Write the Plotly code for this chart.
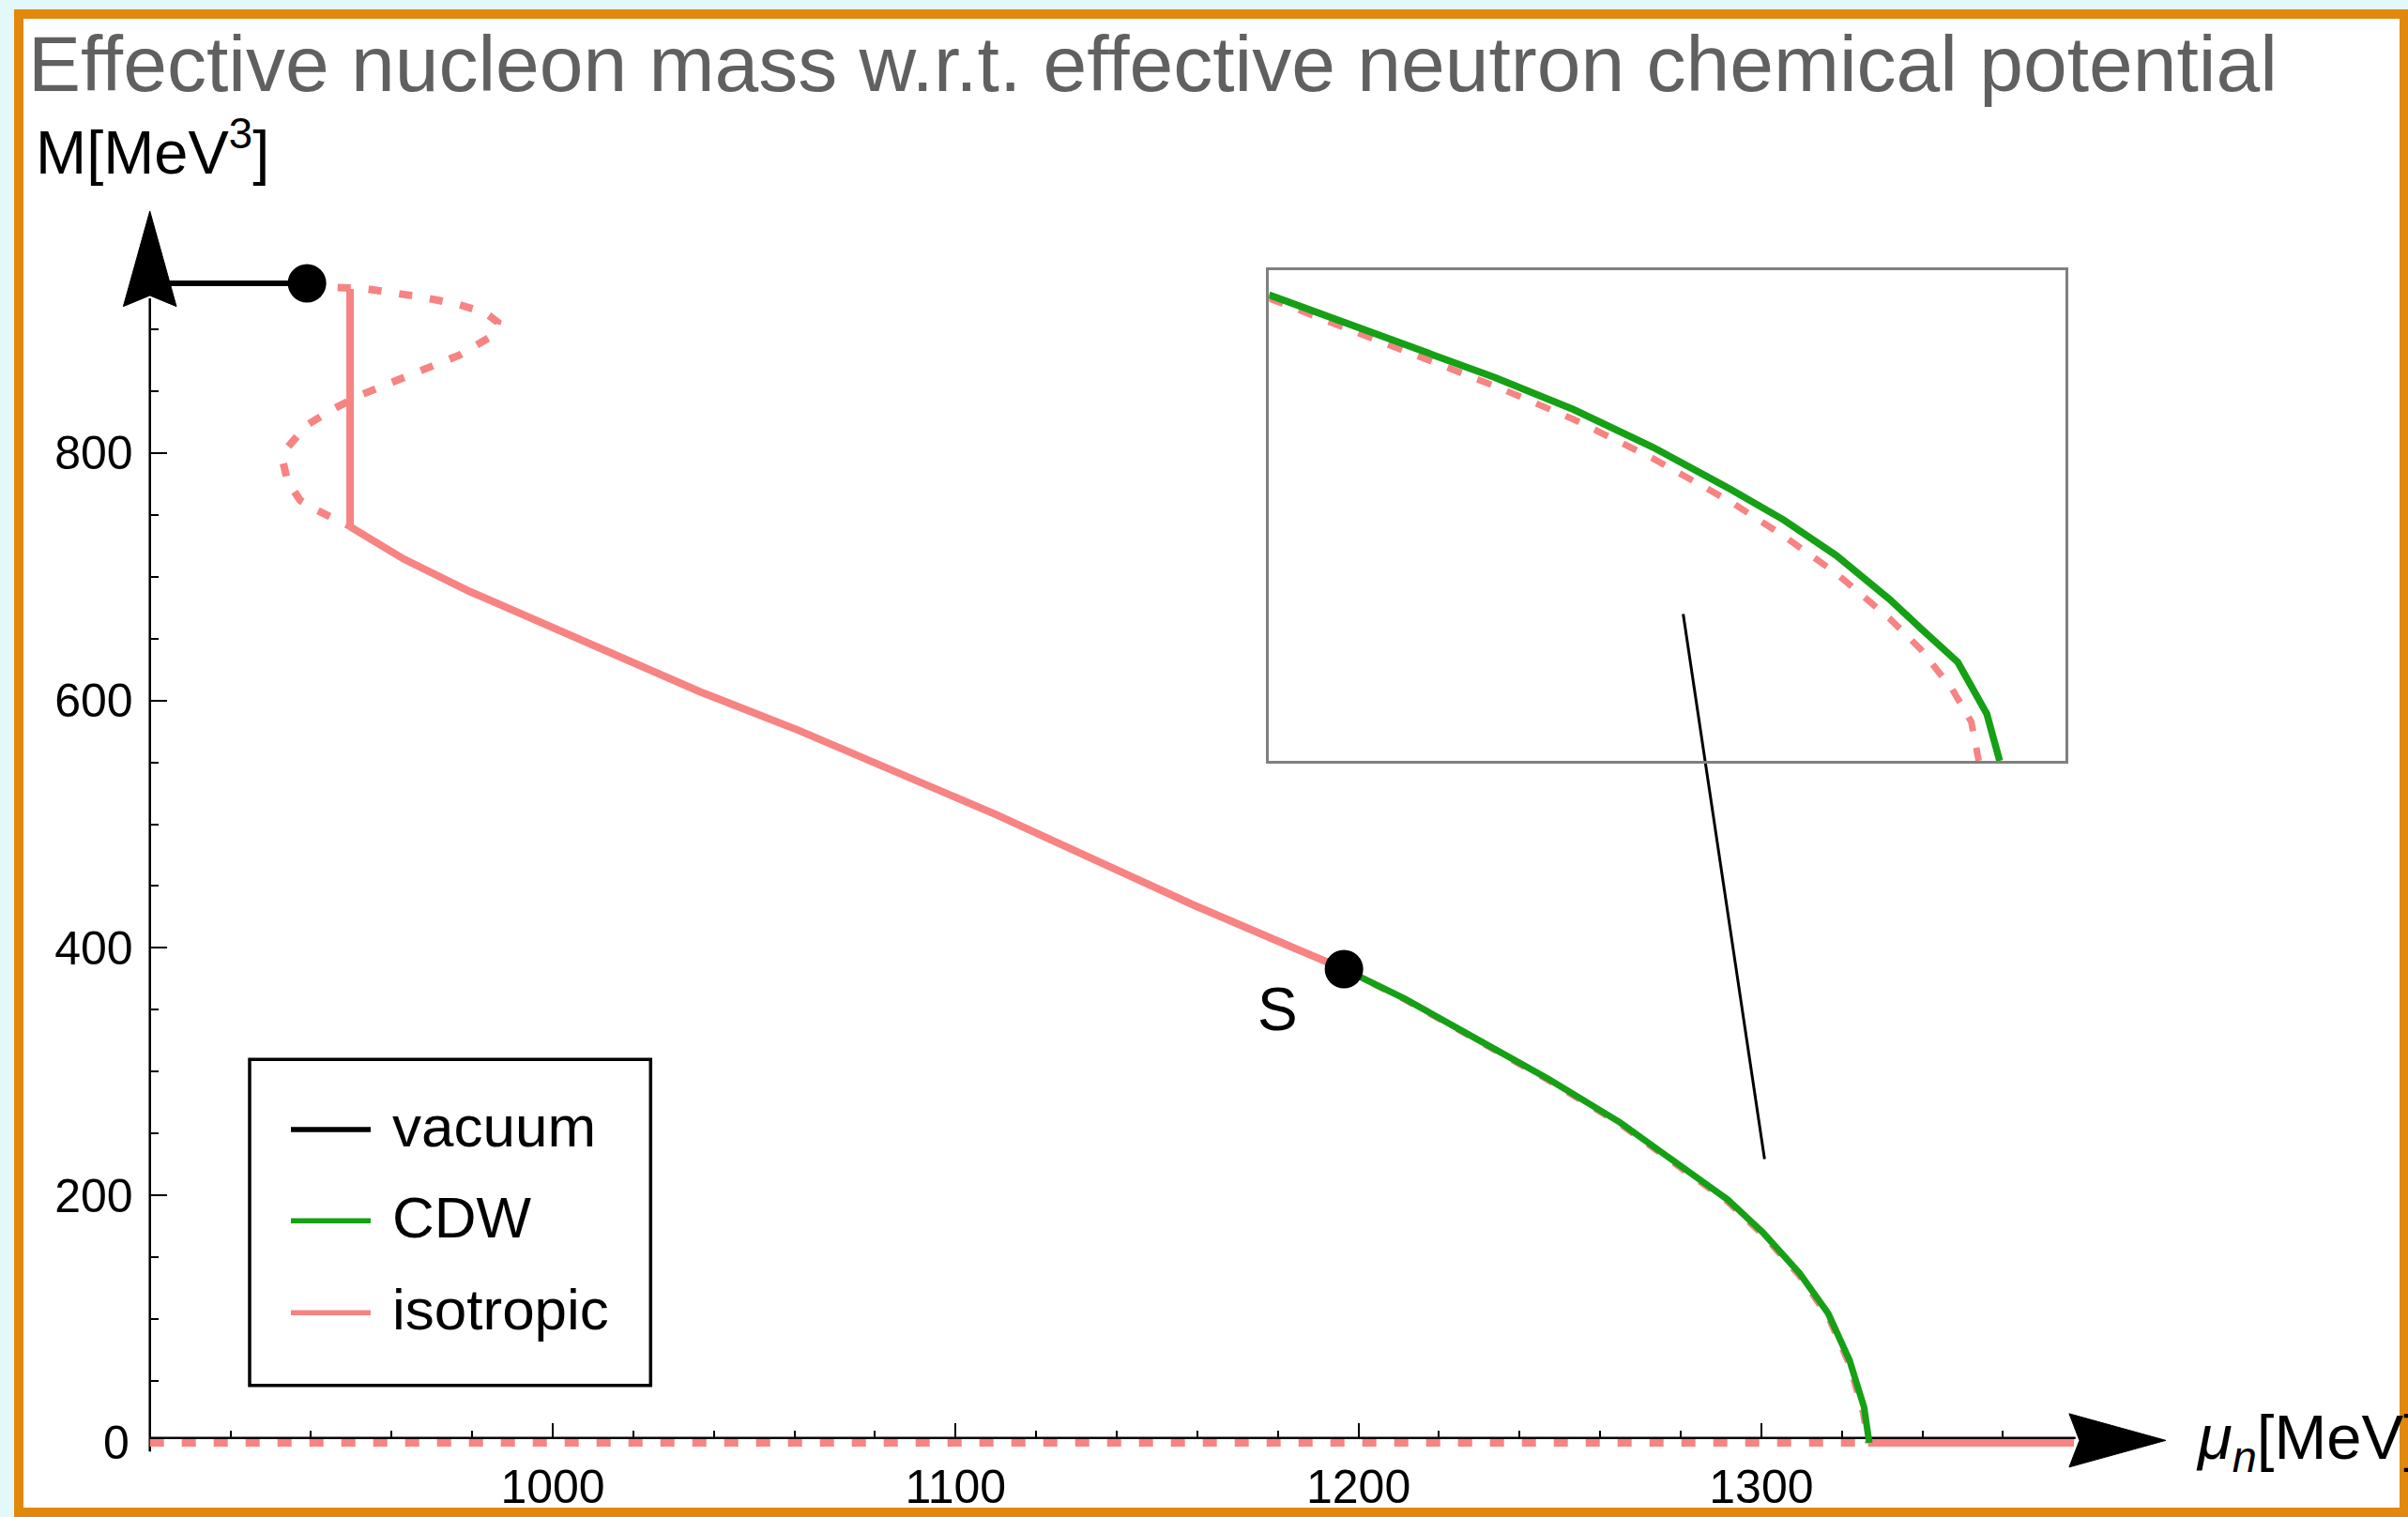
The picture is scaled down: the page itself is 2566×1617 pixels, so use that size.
import plotly.graph_objects as go

W, H = 2566, 1617

# ---------------- data ----------------
# vacuum branch
vac_mu = [900.0, 939.0]
vac_M = [937.1, 937.1]

# isotropic: unstable / metastable loop (dashed)
iso_loop_mu = [939.0, 944.3, 952.9, 960.6, 967.6, 976.2, 983.2, 986.3, 985.5, 976.9, 968.4,
               960.6, 952.9, 945.9, 938.9, 934.2, 933.1, 934.2, 937.3, 941.2, 947.4, 949.7]
iso_loop_M = [937.1, 934.0, 933.0, 929.7, 925.9, 920.4, 913.4, 905.8, 895.6, 879.2, 867.9,
              857.7, 847.6, 836.2, 822.4, 804.6, 792.0, 776.9, 761.7, 754.1, 744.0, 740.7]
# isotropic: first-order jump (solid)
iso_jump_mu = [949.7, 949.7]
iso_jump_M = [932.5, 740.4]
# isotropic: stable branch down to S (solid)
iso_stable_mu = [949.7, 963.0, 979.3, 995.7, 1012.0, 1036.5, 1061.1, 1085.6, 1110.1, 1134.6,
                 1159.1, 1183.6, 1196.4]
iso_stable_M = [740.4, 714.3, 688.2, 664.6, 641.1, 607.1, 575.7, 541.8, 507.7, 471.1,
                434.6, 400.5, 382.9]
# isotropic beyond S (metastable, dashed, under CDW)
iso_meta_mu = [1196.4, 1211.4, 1229.2, 1247.1, 1264.9, 1282.7, 1291.6, 1300.5, 1309.5, 1316.6,
               1321.9, 1325.3, 1326.5]
iso_meta_M = [382.9, 358.5, 325.9, 293.2, 257.8, 216.9, 195.1, 167.8, 135.0, 102.0,
              63.0, 24.0, 0.0]
# isotropic chirally restored M = 0
iso_zero_dash_mu = [900.0, 1326.5]
iso_zero_dash_M = [0.0, 0.0]
iso_zero_solid_mu = [1326.5, 1377.6]
iso_zero_solid_M = [0.0, 0.0]

# CDW branch
cdw_mu = [1196.4, 1211.4, 1229.2, 1247.1, 1264.9, 1282.7, 1291.6, 1300.5, 1309.5, 1316.6,
          1321.9, 1325.5, 1326.8]
cdw_M = [382.9, 359.1, 326.7, 294.2, 259.0, 218.3, 196.7, 169.6, 137.1, 104.6,
         66.7, 28.8, 0.0]

# special points (vacuum end and S)
pt_mu = [939.0, 1196.4]
pt_M = [937.1, 382.9]
s_label_mu, s_label_M = 1180.0, 350.0

# pointer from inset to curve
ptr_mu = [1280.6, 1300.8]
ptr_M = [669.8, 229.3]

# inset (magnified end of the curves)
ins_cdw_mu = [1316.0, 1317.0, 1318.17, 1319.34, 1320.51, 1321.68, 1322.84, 1323.62, 1324.40,
              1325.19, 1325.65, 1326.20, 1326.63, 1326.82]
ins_cdw_M = [104.4, 98.9, 92.4, 85.9, 78.7, 70.3, 60.8, 54.0, 46.0, 36.2, 29.7, 22.1, 10.5, 0.0]
ins_iso_mu = [1316.0, 1317.0, 1318.17, 1319.34, 1320.51, 1321.68, 1322.84, 1323.62, 1324.40,
              1325.19, 1325.65, 1326.12, 1326.40, 1326.51]
ins_iso_M = [103.6, 97.8, 91.0, 84.0, 76.5, 67.8, 58.0, 50.4, 42.0, 31.9, 25.0, 16.0, 8.7, 0.0]
ins_xrange = [1316.0, 1327.8]
ins_yrange = [0.0, 110.0]

# ticks
x_major = [1000, 1100, 1200, 1300]
x_minor = [920, 940, 960, 980, 1020, 1040, 1060, 1080, 1120, 1140, 1160, 1180,
           1220, 1240, 1260, 1280, 1320, 1340, 1360]
y_major = [200, 400, 600, 800]
y_minor = [50, 100, 150, 250, 300, 350, 450, 500, 550, 650, 700, 750, 850, 900]

title_text = "Effective nucleon mass w.r.t. effective neutron chemical potential"
legend_names = ["vacuum", "CDW", "isotropic"]

# ---------------- style ----------------
PINK = "#F78383"
GREEN = "#15A015"
BLACK = "#000000"
ORANGE = "#E2880C"
FONT = "Liberation Sans, Arial, sans-serif"
DASH = "15px,19px"


def X(px):
    return px / W


def Y(py):
    return 1 - py / H


fig = go.Figure()


def line(x, y, color, width, dash="solid", xa="x", ya="y", name=None):
    fig.add_trace(go.Scatter(x=x, y=y, mode="lines", name=name, showlegend=False,
                             line=dict(color=color, width=width, dash=dash),
                             xaxis=xa, yaxis=ya, hoverinfo="skip"))


# main plot
line(iso_zero_dash_mu, iso_zero_dash_M, PINK, 8, DASH, name="isotropic")
line(iso_zero_solid_mu, iso_zero_solid_M, PINK, 8, name="isotropic")
line(iso_loop_mu, iso_loop_M, PINK, 8, "14px,19px", name="isotropic")
line(iso_jump_mu, iso_jump_M, PINK, 8, name="isotropic")
line(iso_stable_mu, iso_stable_M, PINK, 8, name="isotropic")
line(iso_meta_mu, iso_meta_M, PINK, 7, DASH, name="isotropic")
line(cdw_mu, cdw_M, GREEN, 7, name="CDW")
line(vac_mu, vac_M, BLACK, 6, name="vacuum")
line(ptr_mu, ptr_M, BLACK, 3)
fig.add_trace(go.Scatter(x=pt_mu, y=pt_M, mode="markers", showlegend=False,
                         marker=dict(color=BLACK, size=41, line=dict(width=0)),
                         hoverinfo="skip"))

# inset
line(ins_iso_mu, ins_iso_M, PINK, 7, "16px,18px", "x2", "y2")
line(ins_cdw_mu, ins_cdw_M, GREEN, 7.5, "solid", "x2", "y2")

# geometry of main axes (pixels)
x0_px, px_per_mev = 159.7, 4.293
y0_px, px_per_m = 1538.0, 1.319
xr = [880, 1450]
yr = [-40, 1010]
xdom = [X(x0_px + (xr[0] - 900) * px_per_mev), X(x0_px + (xr[1] - 900) * px_per_mev)]
ydom = [Y(y0_px - yr[0] * px_per_m), Y(y0_px - yr[1] * px_per_m)]
axis_M = 4.0

tickfont = dict(family=FONT, size=50, color=BLACK)

fig.update_layout(
    width=W, height=H,
    margin=dict(l=0, r=0, t=0, b=0),
    paper_bgcolor="#E3F8FA",
    plot_bgcolor="rgba(0,0,0,0)",
    xaxis=dict(domain=xdom, range=xr, showgrid=False, zeroline=False, showline=False,
               anchor="free", position=Y(y0_px - axis_M * px_per_m),
               tickmode="array", tickvals=x_major, ticktext=[str(v) for v in x_major],
               ticks="inside", ticklen=16, tickwidth=2, tickcolor=BLACK,
               tickfont=tickfont, ticklabelstandoff=18,
               minor=dict(tickmode="array", tickvals=x_minor, ticks="inside",
                          ticklen=8, tickwidth=2, tickcolor=BLACK, showgrid=False)),
    yaxis=dict(domain=ydom, range=yr, showgrid=False, zeroline=False, showline=False,
               anchor="free", position=X(x0_px),
               tickmode="array", tickvals=y_major, ticktext=[str(v) for v in y_major],
               ticks="inside", ticklen=17, tickwidth=2, tickcolor=BLACK,
               tickfont=tickfont, ticklabelstandoff=18,
               minor=dict(tickmode="array", tickvals=y_minor, ticks="inside",
                          ticklen=8, tickwidth=2, tickcolor=BLACK, showgrid=False)),
    xaxis2=dict(domain=[X(1352.3), X(2201.4)], range=ins_xrange, anchor="y2",
                showgrid=False, zeroline=False, showticklabels=False, ticks="",
                showline=True, mirror=True, linecolor="#808080", linewidth=2.5),
    yaxis2=dict(domain=[Y(811.0), Y(287.6)], range=ins_yrange, anchor="x2",
                showgrid=False, zeroline=False, showticklabels=False, ticks="",
                showline=True, mirror=True, linecolor="#808080", linewidth=2.5),
    showlegend=False,
)

shapes = []
# orange frame with white page
shapes.append(dict(type="rect", xref="paper", yref="paper", x0=X(20), x1=X(2562),
                   y0=Y(1612), y1=Y(15), fillcolor="white",
                   line=dict(color=ORANGE, width=10), layer="below"))
# axis lines
shapes.append(dict(type="line", xref="x", yref="y", x0=900, x1=1378, y0=axis_M, y1=axis_M,
                   line=dict(color=BLACK, width=2.5), layer="below"))
shapes.append(dict(type="line", xref="x", yref="y", x0=900, x1=900, y0=-7, y1=925,
                   line=dict(color=BLACK, width=2.5), layer="below"))
# arrow heads
shapes.append(dict(type="path", xref="x", yref="y", xsizemode="pixel", ysizemode="pixel",
                   xanchor=1400.4, yanchor=2.0,
                   path="M 0,0 L -103,28.5 L -92,0 L -103,-28.5 Z",
                   fillcolor=BLACK, line=dict(color=BLACK, width=1)))
shapes.append(dict(type="path", xref="x", yref="y", xsizemode="pixel", ysizemode="pixel",
                   xanchor=900, yanchor=995.5,
                   path="M 0,0 L 28.3,-101.7 L 0,-90 L -28.3,-101.7 Z",
                   fillcolor=BLACK, line=dict(color=BLACK, width=1)))
# legend box
shapes.append(dict(type="rect", xref="paper", yref="paper", x0=X(266), x1=X(693.3),
                   y0=Y(1476.7), y1=Y(1129.3), line=dict(color=BLACK, width=3.5),
                   fillcolor="white"))
legend_colors = [BLACK, GREEN, PINK]
legend_y = [1204.0, 1301.3, 1399.3]
for c, ly in zip(legend_colors, legend_y):
    shapes.append(dict(type="line", xref="paper", yref="paper", x0=X(310), x1=X(395),
                       y0=Y(ly), y1=Y(ly), line=dict(color=c, width=5.5)))
fig.update_layout(shapes=shapes)

ann = []
ann.append(dict(text=title_text, xref="paper", yref="paper", x=X(28), y=Y(68),
                xanchor="left", yanchor="middle", showarrow=False,
                font=dict(family=FONT, size=84, color="#606060")))
ann.append(dict(text="M[MeV<sup>3</sup>]", xref="paper", yref="paper", x=X(36), y=Y(158),
                xanchor="left", yanchor="middle", showarrow=False,
                font=dict(family=FONT, size=65, color=BLACK)))
ann.append(dict(text="<i>μ</i><sub><i>n</i></sub>[MeV]", xref="paper", yref="paper",
                x=X(2338), y=Y(1536), xanchor="left", yanchor="middle", showarrow=False,
                font=dict(family=FONT, size=67, color=BLACK)))
ann.append(dict(text="0", xref="x", yref="y", x=900, y=0, xanchor="right",
                yanchor="middle", xshift=-20, showarrow=False, font=tickfont))
ann.append(dict(text="S", xref="x", yref="y", x=s_label_mu, y=s_label_M,
                xanchor="center", yanchor="middle", showarrow=False,
                font=dict(family=FONT, size=64, color=BLACK)))
for name, ly in zip(legend_names, legend_y):
    ann.append(dict(text=name, xref="paper", yref="paper", x=X(416), y=Y(ly - 4),
                    xanchor="left", yanchor="middle", showarrow=False,
                    font=dict(family=FONT, size=62, color=BLACK)))
fig.update_layout(annotations=ann)

fig.write_html("out.html", config={"displayModeBar": False},
               post_script="document.body.style.margin='0px';"
                           "document.body.style.overflow='hidden';")
